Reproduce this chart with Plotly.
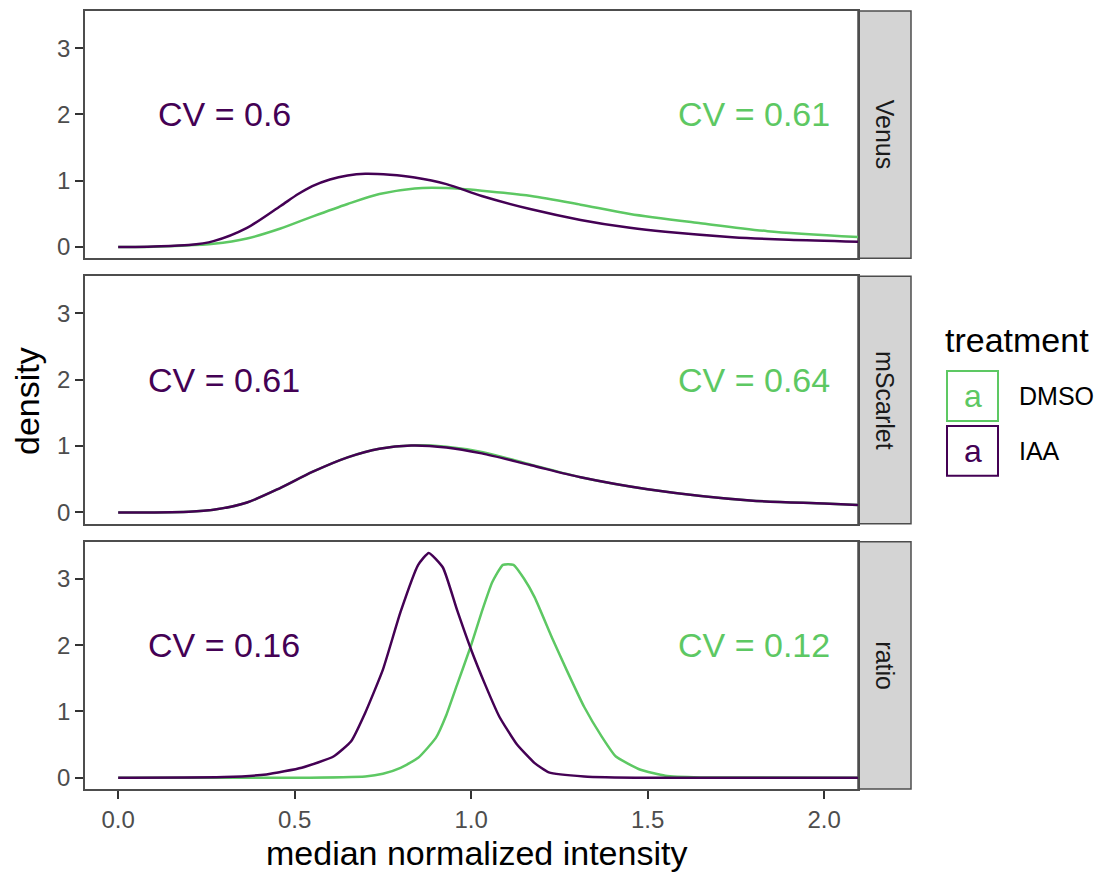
import plotly.graph_objects as go

# ---------------- data ----------------
facets = ["Venus", "mScarlet", "ratio"]
treatments = ["DMSO", "IAA"]
colors = {"DMSO": "#5DC863", "IAA": "#440154"}

venus_dmso_x = [0, 0.1, 0.18, 0.27, 0.365, 0.46, 0.55, 0.65, 0.74, 0.84, 0.93, 1.03, 1.17, 1.31, 1.45, 1.65, 1.84, 2.1]
venus_dmso_y = [0.0, 0.005, 0.02, 0.05, 0.13, 0.28, 0.46, 0.65, 0.80, 0.885, 0.89, 0.85, 0.77, 0.64, 0.50, 0.36, 0.24, 0.15]
venus_iaa_x = [0, 0.1, 0.2, 0.27, 0.365, 0.46, 0.51, 0.55, 0.60, 0.65, 0.70, 0.77, 0.84, 0.93, 1.03, 1.17, 1.31, 1.45, 1.55, 1.74, 1.9, 2.1]
venus_iaa_y = [0.0, 0.01, 0.03, 0.09, 0.29, 0.62, 0.80, 0.92, 1.02, 1.08, 1.105, 1.09, 1.05, 0.95, 0.77, 0.57, 0.41, 0.29, 0.23, 0.15, 0.11, 0.08]

msc_dmso_x = [0, 0.1, 0.2, 0.27, 0.365, 0.46, 0.55, 0.65, 0.74, 0.83, 0.93, 1.03, 1.17, 1.31, 1.5, 1.79, 2.0, 2.1]
msc_dmso_y = [0.0, 0.0, 0.01, 0.04, 0.15, 0.37, 0.61, 0.83, 0.96, 1.01, 0.99, 0.91, 0.72, 0.53, 0.35, 0.18, 0.135, 0.11]
msc_iaa_x = [0, 0.1, 0.2, 0.27, 0.365, 0.46, 0.55, 0.65, 0.74, 0.83, 0.93, 1.03, 1.17, 1.31, 1.5, 1.79, 2.0, 2.1]
msc_iaa_y = [0.0, 0.0, 0.01, 0.04, 0.15, 0.37, 0.61, 0.83, 0.96, 1.01, 0.98, 0.89, 0.71, 0.53, 0.35, 0.18, 0.135, 0.11]

ratio_dmso_x = [0, 0.5, 0.7, 0.75, 0.8, 0.85, 0.9, 0.93, 0.96, 1.0, 1.03, 1.06, 1.09, 1.12, 1.15, 1.18, 1.23, 1.27, 1.32, 1.37, 1.41, 1.48, 1.55, 1.65, 2.1]
ratio_dmso_y = [0.0, 0.0, 0.02, 0.06, 0.15, 0.30, 0.60, 0.95, 1.40, 2.00, 2.50, 2.95, 3.21, 3.21, 3.00, 2.72, 2.10, 1.63, 1.07, 0.62, 0.32, 0.12, 0.03, 0.005, 0.0]
ratio_iaa_x = [0, 0.3, 0.42, 0.52, 0.61, 0.66, 0.70, 0.75, 0.80, 0.85, 0.88, 0.92, 0.96, 1.0, 1.04, 1.08, 1.13, 1.18, 1.22, 1.32, 1.5, 2.1]
ratio_iaa_y = [0.0, 0.01, 0.05, 0.15, 0.32, 0.55, 0.98, 1.63, 2.50, 3.21, 3.39, 3.17, 2.53, 1.93, 1.40, 0.92, 0.50, 0.22, 0.08, 0.02, 0.0, 0.0]

series = {
    ("Venus", "DMSO"): (venus_dmso_x, venus_dmso_y),
    ("Venus", "IAA"): (venus_iaa_x, venus_iaa_y),
    ("mScarlet", "DMSO"): (msc_dmso_x, msc_dmso_y),
    ("mScarlet", "IAA"): (msc_iaa_x, msc_iaa_y),
    ("ratio", "DMSO"): (ratio_dmso_x, ratio_dmso_y),
    ("ratio", "IAA"): (ratio_iaa_x, ratio_iaa_y),
}

cv_labels = {
    "Venus": {"DMSO": "CV = 0.61", "IAA": "CV = 0.6"},
    "mScarlet": {"DMSO": "CV = 0.64", "IAA": "CV = 0.61"},
    "ratio": {"DMSO": "CV = 0.12", "IAA": "CV = 0.16"},
}
cv_x = {"DMSO": 1.8, "IAA": 0.3}
cv_y = 2.0

x_ticks = [0.0, 0.5, 1.0, 1.5, 2.0]
x_ticklabels = ["0.0", "0.5", "1.0", "1.5", "2.0"]
y_ticks = [0, 1, 2, 3]
y_ticklabels = ["0", "1", "2", "3"]

# ---------------- layout geometry ----------------
W, H = 1103, 873
L, R, T, B = 85, 858, 9, 789
panels_px = [(9, 257), (275, 523), (541, 789)]
FONT = "Liberation Sans, Arial, sans-serif"
BORDER = "#4D4D4D"


def px_x(px):
    return (px - L) / (R - L)


def px_y(py):
    return (B - py) / (B - T)


fig = go.Figure()

shapes = []
annotations = []
layout_axes = {}

for i, facet in enumerate(facets):
    k = "" if i == 0 else str(i + 1)
    xa, ya = "x" + k, "y" + k
    for tr in treatments:
        xs, ys = series[(facet, tr)]
        fig.add_trace(go.Scatter(
            x=xs, y=ys, mode="lines", xaxis=xa, yaxis=ya,
            line=dict(color=colors[tr], width=2.5, shape="spline",
                      smoothing=0.45 if facet == "ratio" else 0.8),
            showlegend=False, hoverinfo="skip"))
        annotations.append(dict(
            x=cv_x[tr], y=cv_y, xref=xa, yref=ya, text=cv_labels[facet][tr],
            showarrow=False, font=dict(family=FONT, size=34, color=colors[tr]),
            xanchor="center", yanchor="middle"))
    top, bot = panels_px[i]
    dom = [px_y(bot), px_y(top)]
    bottom = (i == len(facets) - 1)
    layout_axes["xaxis" + k] = dict(
        domain=[0, 1], anchor=ya, range=[-0.094, 2.096],
        showgrid=False, zeroline=False, showline=True, mirror=True,
        linecolor=BORDER, linewidth=1.5,
        ticks="outside" if bottom else "", ticklen=8, tickwidth=1.5, tickcolor="#333333",
        tickvals=x_ticks, ticktext=x_ticklabels, showticklabels=bottom,
        tickfont=dict(family=FONT, size=24, color="#4D4D4D"),
        matches=None if i == 0 else "x")
    layout_axes["yaxis" + k] = dict(
        domain=dom, anchor=xa, range=[-0.17, 3.56],
        showgrid=False, zeroline=False, showline=True, mirror=True,
        linecolor=BORDER, linewidth=1.5,
        ticks="outside", ticklen=8, tickwidth=1.5, tickcolor="#333333",
        tickvals=y_ticks, ticktext=y_ticklabels,
        tickfont=dict(family=FONT, size=24, color="#4D4D4D"))
    # strip
    shapes.append(dict(type="rect", xref="paper", yref="paper",
                       x0=1.0, x1=px_x(911), y0=dom[0], y1=dom[1],
                       fillcolor="#D4D4D4", line=dict(color=BORDER, width=1.5), layer="below"))
    annotations.append(dict(x=px_x(885), y=(dom[0] + dom[1]) / 2, xref="paper", yref="paper",
                            text=facet, textangle=90, showarrow=False,
                            font=dict(family=FONT, size=25, color="#1A1A1A"),
                            xanchor="center", yanchor="middle"))

# axis titles
annotations.append(dict(x=px_x(476), y=px_y(853), xref="paper", yref="paper",
                        text="median normalized intensity", showarrow=False,
                        font=dict(family=FONT, size=34, color="black"),
                        xanchor="center", yanchor="middle"))
annotations.append(dict(x=px_x(27), y=px_y(400), xref="paper", yref="paper",
                        text="density", textangle=-90, showarrow=False,
                        font=dict(family=FONT, size=34, color="black"),
                        xanchor="center", yanchor="middle"))

# legend (manual)
annotations.append(dict(x=px_x(943), y=px_y(339), xref="paper", yref="paper",
                        text="treatment", showarrow=False,
                        font=dict(family=FONT, size=34, color="black"),
                        xanchor="left", yanchor="middle"))
key_rows = [(370, 420), (425, 475)]
for tr, (y0, y1) in zip(treatments, key_rows):
    shapes.append(dict(type="rect", xref="paper", yref="paper",
                       x0=px_x(947), x1=px_x(998), y0=px_y(y1), y1=px_y(y0),
                       fillcolor="white", line=dict(color=colors[tr], width=2)))
    annotations.append(dict(x=px_x(972.5), y=px_y((y0 + y1) / 2), xref="paper", yref="paper",
                            text="a", showarrow=False,
                            font=dict(family=FONT, size=32, color=colors[tr]),
                            xanchor="center", yanchor="middle"))
    annotations.append(dict(x=px_x(1017), y=px_y((y0 + y1) / 2), xref="paper", yref="paper",
                            text=tr, showarrow=False,
                            font=dict(family=FONT, size=25, color="black"),
                            xanchor="left", yanchor="middle"))

fig.update_layout(
    width=W, height=H,
    margin=dict(l=L, r=W - R, t=T, b=H - B, pad=0),
    paper_bgcolor="white", plot_bgcolor="white",
    showlegend=False,
    shapes=shapes, annotations=annotations,
    **layout_axes)

fig.write_html("out.html", include_plotlyjs=True, config={"displayModeBar": False})
